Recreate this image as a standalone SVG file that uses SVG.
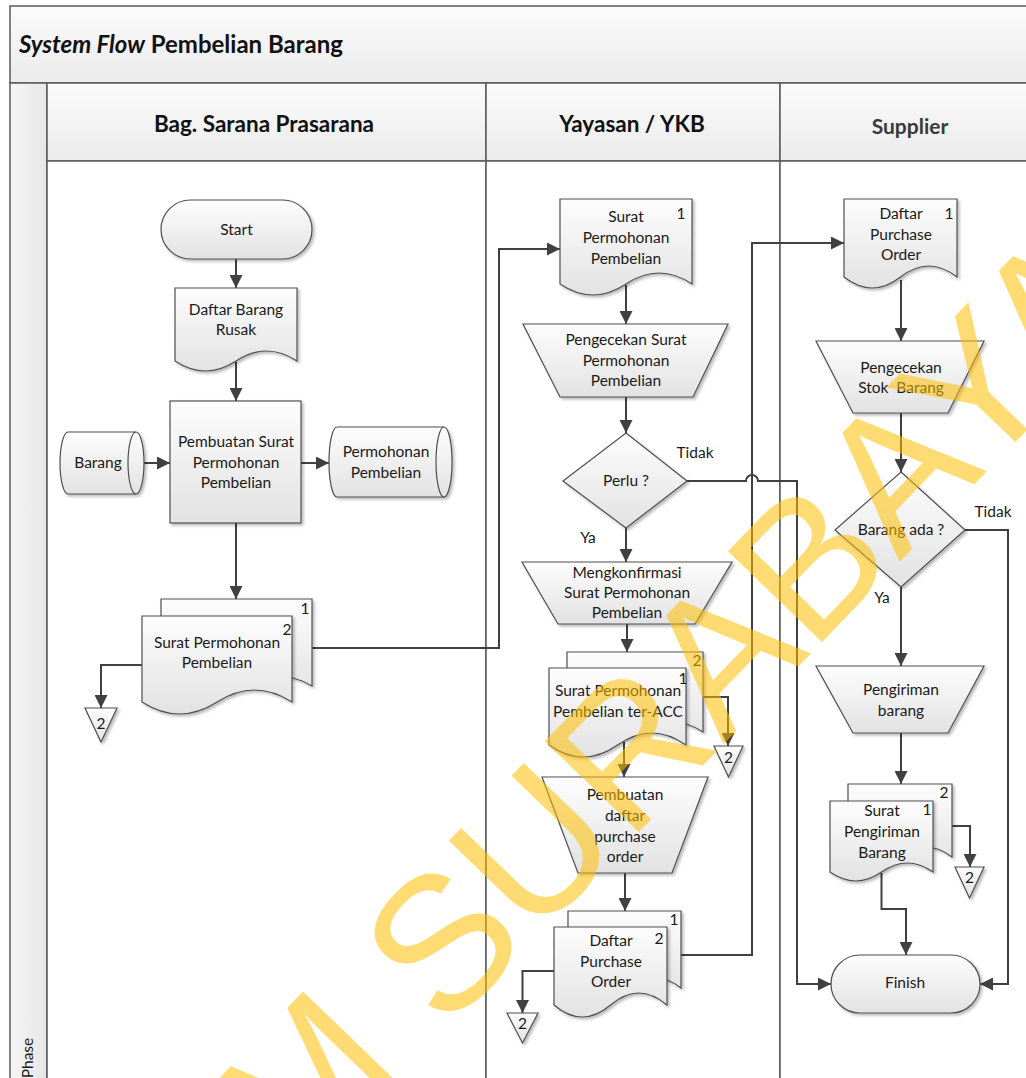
<svg xmlns="http://www.w3.org/2000/svg" width="1026" height="1078" viewBox="0 0 1026 1078">
<defs>
<linearGradient id="nf" x1="0" y1="0" x2="0" y2="1"><stop offset="0" stop-color="#fdfdfd"/><stop offset="1" stop-color="#e2e2e2"/></linearGradient>
<linearGradient id="hf" x1="0" y1="0" x2="0" y2="1"><stop offset="0" stop-color="#fbfbfb"/><stop offset="1" stop-color="#ebebeb"/></linearGradient>
<linearGradient id="pf" x1="0" y1="0" x2="1" y2="0"><stop offset="0" stop-color="#f6f6f6"/><stop offset="1" stop-color="#e6e6e6"/></linearGradient>
<filter id="sh" x="-10%" y="-10%" width="130%" height="130%"><feDropShadow dx="2" dy="2" stdDeviation="1.5" flood-color="#000" flood-opacity="0.28"/></filter>
<marker id="ar" viewBox="0 0 12 12" refX="12" refY="6" markerWidth="13" markerHeight="13" markerUnits="userSpaceOnUse" orient="auto"><path d="M0,0 L12,6 L0,12 Z" fill="#404040"/></marker>
</defs>
<style>
.n{fill:url(#nf);stroke:#505050;stroke-width:1.2;filter:url(#sh)}
.t{font-family:Lato,"Liberation Sans",sans-serif;font-size:15.5px;fill:#1a1a1a;text-anchor:middle}
.h{font-family:Lato,"Liberation Sans",sans-serif;font-size:22.5px;font-weight:bold;fill:#111;text-anchor:middle}
.c{fill:none;stroke:#404040;stroke-width:2}
.a{marker-end:url(#ar)}
.f{stroke:#595959;stroke-width:1.5}
</style>
<rect width="1026" height="1078" fill="#fff"/>
<g id="frame">
<rect class="f" x="10" y="6" width="1030" height="77" fill="url(#hf)"/>
<rect class="f" x="10" y="83" width="37" height="1000" fill="url(#pf)"/>
<rect class="f" x="47" y="83" width="439" height="78" fill="url(#hf)"/>
<rect class="f" x="486" y="83" width="294" height="78" fill="url(#hf)"/>
<rect class="f" x="780" y="83" width="260" height="78" fill="url(#hf)"/>
<rect class="f" x="47" y="161" width="439" height="922" fill="#fff"/>
<rect class="f" x="486" y="161" width="294" height="922" fill="#fff"/>
<rect class="f" x="780" y="161" width="260" height="922" fill="#fff"/>
<text x="19" y="53" font-family="Lato, 'Liberation Sans', sans-serif" font-weight="bold" font-size="24" fill="#111"><tspan font-style="italic">System Flow</tspan> Pembelian Barang</text>
<text class="h" x="264" y="132">Bag. Sarana Prasarana</text>
<text class="h" x="632" y="132">Yayasan / YKB</text>
<text class="h" x="910" y="134" style="fill:#3a3a3a;font-size:21px">Supplier</text>
<text class="t" transform="translate(33,1058) rotate(-90)">Phase</text>
</g>
<g id="connectors">
<path class="c a" d="M236,259 V288"/>
<path class="c a" d="M236,362 V401"/>
<path class="c a" d="M136,463 H170"/>
<path class="c a" d="M301,463 H329"/>
<path class="c a" d="M236,523 V599"/>
<path class="c a" d="M312,648 H499 V249 H560"/>
<path class="c a" d="M142,665 H101 V708"/>
<path class="c a" d="M626,285 V324"/>
<path class="c a" d="M626,397 V433"/>
<path class="c a" d="M626,528 V562"/>
<path class="c a" d="M627,624 V652"/>
<path class="c a" d="M703,697 H728 V746"/>
<path class="c a" d="M624,742 V777"/>
<path class="c a" d="M625,873 V911"/>
<path class="c a" d="M681,955 H752 V243 H844"/>
<path class="c a" d="M554,971 H522.5 V1013"/>
<path class="c a" d="M687,481 H746 A6,6 0 0 1 758,481 H797 V984 H831"/>
<path class="c a" d="M901,280 V341"/>
<path class="c a" d="M901,413 V472"/>
<path class="c a" d="M965,530 H1008 V984 H980"/>
<path class="c a" d="M901,587 V666"/>
<path class="c a" d="M901,733 V784"/>
<path class="c a" d="M952,826 H970 V867"/>
<path class="c a" d="M881.5,873 V909 H906 V955"/>
</g>
<g id="start">
<rect class="n" x="161" y="200" width="151" height="59" rx="29.5"/>
<text class="t" x="236.5" y="235">Start</text>
</g>
<g id="daftar-barang-rusak">
<path class="n" d="M175,288 H297 V361 Q266.5,341 236,361 T175,361 Z"/>
<text class="t" x="236" y="315">Daftar Barang</text>
<text class="t" x="236" y="335">Rusak</text>
</g>
<g id="barang">
<path class="n" d="M68,432 H136 A8,31 0 0 1 136,494 H68 A8,31 0 0 1 68,432 Z"/>
<path d="M136,432 A8,31 0 0 0 136,494" fill="none" stroke="#505050" stroke-width="1.2"/>
<text class="t" x="98" y="468">Barang</text>
</g>
<g id="pembuatan-surat">
<rect class="n" x="170" y="401" width="131" height="122"/>
<text class="t" x="236" y="447">Pembuatan Surat</text>
<text class="t" x="236" y="468">Permohonan</text>
<text class="t" x="236" y="488">Pembelian</text>
</g>
<g id="permohonan-pembelian-store">
<path class="n" d="M337,427 H444 A8,35 0 0 1 444,497 H337 A8,35 0 0 1 337,427 Z"/>
<path d="M444,427 A8,35 0 0 0 444,497" fill="none" stroke="#505050" stroke-width="1.2"/>
<text class="t" x="386" y="457">Permohonan</text>
<text class="t" x="386" y="478">Pembelian</text>
</g>
<g id="surat-permohonan-1">
<path class="n" d="M161,599 H312 V686 Q274,664 236.5,686 T161,686 Z"/>
<path class="n" d="M142,616 H292 V702 Q254.5,678 217,702 T142,702 Z"/>
<text class="t" x="305" y="614">1</text>
<text class="t" x="287" y="635">2</text>
<text class="t" x="217" y="648">Surat Permohonan</text>
<text class="t" x="217" y="668">Pembelian</text>
</g>
<g id="offpage-1">
<polygon class="n" points="85,708 117,708 101,742"/>
<text class="t" x="101" y="729">2</text>
</g>
<g id="surat-permohonan-2">
<path class="n" d="M560,199 H692 V284 Q659,262 626,284 T560,284 Z"/>
<text class="t" x="626" y="222">Surat</text>
<text class="t" x="626" y="243">Permohonan</text>
<text class="t" x="626" y="264">Pembelian</text>
<text class="t" x="681" y="219">1</text>
</g>
<g id="pengecekan-surat">
<polygon class="n" points="523,324 728,324 693,397 560,397"/>
<text class="t" x="626" y="345">Pengecekan Surat</text>
<text class="t" x="626" y="366">Permohonan</text>
<text class="t" x="626" y="386">Pembelian</text>
</g>
<g id="perlu">
<polygon class="n" points="626,433 687,481 626,528 563,481"/>
<text class="t" x="626" y="486">Perlu ?</text>
</g>
<g id="mengkonfirmasi">
<polygon class="n" points="522,562 732,562 695,624 558,624"/>
<text class="t" x="627" y="578">Mengkonfirmasi</text>
<text class="t" x="627" y="598">Surat Permohonan</text>
<text class="t" x="627" y="618">Pembelian</text>
</g>
<g id="surat-acc">
<path class="n" d="M567,652 H703 V732 Q669,710 635,732 T567,732 Z"/>
<path class="n" d="M549,668 H686 V745 Q651.75,721 617.5,745 T549,745 Z"/>
<text class="t" x="697" y="666">2</text>
<text class="t" x="683" y="684">1</text>
<text class="t" x="618" y="696">Surat Permohonan</text>
<text class="t" x="618" y="717">Pembelian ter-ACC</text>
</g>
<g id="offpage-2">
<polygon class="n" points="714,746 743,746 728.5,777"/>
<text class="t" x="728.5" y="763">2</text>
</g>
<g id="pembuatan-daftar-po">
<polygon class="n" points="542,777 708,777 672,873 578,873"/>
<text class="t" x="625" y="800">Pembuatan</text>
<text class="t" x="625" y="821">daftar</text>
<text class="t" x="625" y="842">purchase</text>
<text class="t" x="625" y="862">order</text>
</g>
<g id="daftar-po-1">
<path class="n" d="M568,911 H681 V988 Q652.75,966 624.5,988 T568,988 Z"/>
<path class="n" d="M554,927 H667 V1005 Q638.75,981 610.5,1005 T554,1005 Z"/>
<text class="t" x="674" y="925">1</text>
<text class="t" x="659" y="944">2</text>
<text class="t" x="611" y="946">Daftar</text>
<text class="t" x="611" y="967">Purchase</text>
<text class="t" x="611" y="987">Order</text>
</g>
<g id="offpage-3">
<polygon class="n" points="507,1013 538,1013 522.5,1043"/>
<text class="t" x="522.5" y="1029">2</text>
</g>
<g id="daftar-po-2">
<path class="n" d="M844,199 H957 V277 Q928.75,255 900.5,277 T844,277 Z"/>
<text class="t" x="901" y="219">Daftar</text>
<text class="t" x="901" y="240">Purchase</text>
<text class="t" x="901" y="260">Order</text>
<text class="t" x="949" y="219">1</text>
</g>
<g id="pengecekan-stok">
<polygon class="n" points="816,341 984,341 948,413 853,413"/>
<text class="t" x="901" y="373">Pengecekan</text>
<text class="t" x="901" y="393" style="white-space:pre">Stok  Barang</text>
</g>
<g id="barang-ada">
<polygon class="n" points="901,472 965,530 901,587 835,530"/>
<text class="t" x="901" y="535">Barang ada ?</text>
</g>
<g id="pengiriman-barang">
<polygon class="n" points="816,666 984,666 948,733 853,733"/>
<text class="t" x="901" y="695">Pengiriman</text>
<text class="t" x="901" y="716">barang</text>
</g>
<g id="surat-pengiriman">
<path class="n" d="M848,784 H952 V857 Q926,837 900,857 T848,857 Z"/>
<path class="n" d="M830,801 H933 V872 Q907.25,854 881.5,872 T830,872 Z"/>
<text class="t" x="944" y="798">2</text>
<text class="t" x="927" y="815">1</text>
<text class="t" x="882" y="816">Surat</text>
<text class="t" x="882" y="837">Pengiriman</text>
<text class="t" x="882" y="858">Barang</text>
</g>
<g id="offpage-4">
<polygon class="n" points="955,867 984,867 969.5,898"/>
<text class="t" x="969.5" y="883">2</text>
</g>
<g id="finish">
<rect class="n" x="831" y="955" width="149" height="58" rx="29"/>
<text class="t" x="905" y="988">Finish</text>
</g>
<g id="labels">
<text class="t" x="695" y="458">Tidak</text>
<text class="t" x="588" y="543">Ya</text>
<text class="t" x="993" y="517">Tidak</text>
<text class="t" x="882" y="603">Ya</text>
</g>
<g id="watermark">
<text transform="translate(-98,1595) rotate(-46)" font-family="'Liberation Sans', sans-serif" font-size="190" fill="#FFC000" fill-opacity="0.55">STIKOM SURABAYA</text>
</g>
</svg>
